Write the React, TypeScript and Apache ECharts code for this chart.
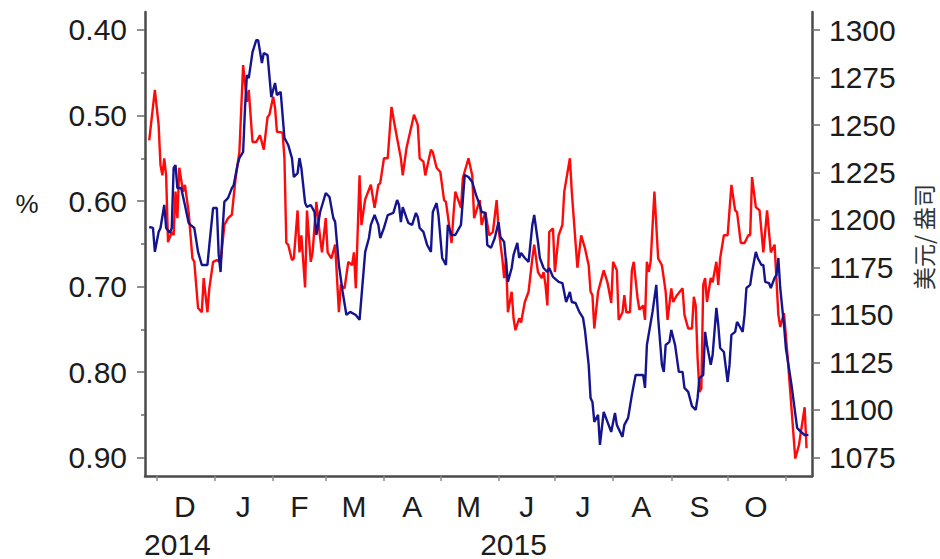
import React, { useEffect, useRef } from "react";
import * as echarts from "echarts";

// ---------- data ----------
const redSeries: [string, number][] = [
  ["2014-11-27", 0.529], ["2014-11-30", 0.47], ["2014-12-02", 0.511], ["2014-12-03", 0.558], ["2014-12-04", 0.57], ["2014-12-05", 0.55], ["2014-12-06", 0.57], ["2014-12-07", 0.648], ["2014-12-09", 0.636], ["2014-12-10", 0.64], ["2014-12-11", 0.589], ["2014-12-12", 0.62], ["2014-12-13", 0.561], ["2014-12-15", 0.589], ["2014-12-16", 0.581], ["2014-12-18", 0.613], ["2014-12-20", 0.667], ["2014-12-21", 0.671], ["2014-12-23", 0.725], ["2014-12-25", 0.73], ["2014-12-26", 0.69], ["2014-12-28", 0.73], ["2014-12-29", 0.702], ["2014-12-31", 0.671],
  ["2015-01-02", 0.669], ["2015-01-04", 0.672], ["2015-01-06", 0.628], ["2015-01-08", 0.62], ["2015-01-10", 0.616], ["2015-01-12", 0.573], ["2015-01-14", 0.543], ["2015-01-16", 0.441], ["2015-01-18", 0.484], ["2015-01-19", 0.47], ["2015-01-21", 0.531], ["2015-01-23", 0.531], ["2015-01-25", 0.523], ["2015-01-27", 0.54], ["2015-01-29", 0.502], ["2015-01-30", 0.499],
  ["2015-02-01", 0.478], ["2015-02-02", 0.491], ["2015-02-03", 0.519], ["2015-02-06", 0.52], ["2015-02-07", 0.55], ["2015-02-08", 0.649], ["2015-02-09", 0.651], ["2015-02-11", 0.669], ["2015-02-12", 0.667], ["2015-02-14", 0.611], ["2015-02-15", 0.66], ["2015-02-16", 0.64], ["2015-02-18", 0.701], ["2015-02-19", 0.611], ["2015-02-21", 0.671], ["2015-02-22", 0.66], ["2015-02-24", 0.601], ["2015-02-26", 0.643], ["2015-02-27", 0.66],
  ["2015-03-01", 0.62], ["2015-03-02", 0.66], ["2015-03-04", 0.667], ["2015-03-06", 0.651], ["2015-03-08", 0.73], ["2015-03-09", 0.698], ["2015-03-11", 0.702], ["2015-03-13", 0.671], ["2015-03-15", 0.675], ["2015-03-16", 0.66], ["2015-03-17", 0.702], ["2015-03-19", 0.57], ["2015-03-20", 0.628], ["2015-03-22", 0.598], ["2015-03-25", 0.581], ["2015-03-27", 0.608], ["2015-03-29", 0.581], ["2015-03-30", 0.579],
  ["2015-04-01", 0.55], ["2015-04-03", 0.55], ["2015-04-05", 0.49], ["2015-04-07", 0.515], ["2015-04-10", 0.55], ["2015-04-11", 0.57], ["2015-04-13", 0.538], ["2015-04-17", 0.499], ["2015-04-19", 0.511], ["2015-04-20", 0.55], ["2015-04-22", 0.554], ["2015-04-23", 0.57], ["2015-04-26", 0.54], ["2015-04-27", 0.543], ["2015-04-29", 0.561],
  ["2015-05-01", 0.566], ["2015-05-03", 0.599], ["2015-05-04", 0.601], ["2015-05-07", 0.649], ["2015-05-08", 0.616], ["2015-05-09", 0.589], ["2015-05-12", 0.608], ["2015-05-13", 0.573], ["2015-05-16", 0.55], ["2015-05-18", 0.57], ["2015-05-19", 0.62], ["2015-05-22", 0.599], ["2015-05-23", 0.628], ["2015-05-25", 0.613], ["2015-05-27", 0.64], ["2015-05-29", 0.636], ["2015-05-31", 0.599],
  ["2015-06-01", 0.632], ["2015-06-03", 0.667], ["2015-06-04", 0.69], ["2015-06-05", 0.667], ["2015-06-06", 0.73], ["2015-06-08", 0.706], ["2015-06-09", 0.737], ["2015-06-10", 0.751], ["2015-06-12", 0.737], ["2015-06-13", 0.742], ["2015-06-15", 0.718], ["2015-06-17", 0.706], ["2015-06-19", 0.667], ["2015-06-20", 0.651], ["2015-06-22", 0.683], ["2015-06-24", 0.69], ["2015-06-25", 0.683], ["2015-06-26", 0.698], ["2015-06-27", 0.722], ["2015-06-28", 0.636], ["2015-06-30", 0.632],
  ["2015-07-01", 0.683], ["2015-07-03", 0.64], ["2015-07-05", 0.628], ["2015-07-06", 0.589], ["2015-07-09", 0.55], ["2015-07-10", 0.589], ["2015-07-13", 0.678], ["2015-07-15", 0.64], ["2015-07-17", 0.655], ["2015-07-19", 0.675], ["2015-07-20", 0.706], ["2015-07-21", 0.71], ["2015-07-22", 0.749], ["2015-07-24", 0.706], ["2015-07-27", 0.681], ["2015-07-29", 0.695], ["2015-07-31", 0.719],
  ["2015-08-01", 0.671], ["2015-08-03", 0.681], ["2015-08-04", 0.739], ["2015-08-06", 0.73], ["2015-08-07", 0.71], ["2015-08-08", 0.73], ["2015-08-10", 0.73], ["2015-08-11", 0.681], ["2015-08-12", 0.671], ["2015-08-14", 0.713], ["2015-08-15", 0.727], ["2015-08-17", 0.722], ["2015-08-18", 0.739], ["2015-08-19", 0.671], ["2015-08-20", 0.683], ["2015-08-21", 0.671], ["2015-08-23", 0.589], ["2015-08-25", 0.667], ["2015-08-27", 0.675], ["2015-08-29", 0.706], ["2015-08-30", 0.739],
  ["2015-09-01", 0.702], ["2015-09-02", 0.718], ["2015-09-04", 0.71], ["2015-09-07", 0.702], ["2015-09-08", 0.733], ["2015-09-10", 0.749], ["2015-09-12", 0.749], ["2015-09-13", 0.712], ["2015-09-14", 0.722], ["2015-09-15", 0.784], ["2015-09-16", 0.823], ["2015-09-17", 0.819], ["2015-09-18", 0.698], ["2015-09-19", 0.69], ["2015-09-20", 0.718], ["2015-09-22", 0.69], ["2015-09-23", 0.695], ["2015-09-25", 0.671], ["2015-09-26", 0.698], ["2015-09-27", 0.667], ["2015-09-29", 0.64],
  ["2015-10-01", 0.64], ["2015-10-03", 0.581], ["2015-10-05", 0.611], ["2015-10-06", 0.613], ["2015-10-08", 0.649], ["2015-10-10", 0.649], ["2015-10-12", 0.64], ["2015-10-13", 0.64], ["2015-10-14", 0.572], ["2015-10-16", 0.607], ["2015-10-18", 0.611], ["2015-10-20", 0.66], ["2015-10-22", 0.611], ["2015-10-24", 0.66], ["2015-10-26", 0.651], ["2015-10-28", 0.733], ["2015-10-29", 0.747], ["2015-10-31", 0.731],
  ["2015-11-02", 0.784], ["2015-11-04", 0.842], ["2015-11-06", 0.901], ["2015-11-08", 0.885], ["2015-11-09", 0.87], ["2015-11-11", 0.841], ["2015-11-12", 0.889],
];

const blueSeries: [string, number][] = [
  ["2014-11-27", 1196.3], ["2014-11-29", 1195.8], ["2014-11-30", 1183.2], ["2014-12-02", 1193.7], ["2014-12-03", 1195.8], ["2014-12-05", 1207.9], ["2014-12-06", 1195.8], ["2014-12-08", 1193.2], ["2014-12-09", 1195.8], ["2014-12-10", 1227.4], ["2014-12-11", 1228.9], ["2014-12-12", 1216.8], ["2014-12-14", 1216.8], ["2014-12-16", 1207.9], ["2014-12-18", 1198.4], ["2014-12-19", 1197.4], ["2014-12-21", 1195.8], ["2014-12-23", 1183.2], ["2014-12-25", 1176.3], ["2014-12-28", 1176.3], ["2014-12-29", 1186.8], ["2014-12-31", 1206.3],
  ["2015-01-02", 1206.3], ["2015-01-03", 1181.6], ["2015-01-04", 1172.6], ["2015-01-05", 1193.7], ["2015-01-06", 1209.5], ["2015-01-08", 1211.6], ["2015-01-10", 1216.8], ["2015-01-11", 1218.4], ["2015-01-13", 1228.9], ["2015-01-14", 1232.6], ["2015-01-16", 1235.8], ["2015-01-17", 1258.9], ["2015-01-18", 1276.3], ["2015-01-19", 1274.7], ["2015-01-21", 1288.4], ["2015-01-23", 1294.7], ["2015-01-24", 1294.7], ["2015-01-26", 1282.6], ["2015-01-27", 1287.9], ["2015-01-29", 1286.8], ["2015-01-31", 1264.7],
  ["2015-02-01", 1268.4], ["2015-02-02", 1272.1], ["2015-02-03", 1265.8], ["2015-02-05", 1267.4], ["2015-02-07", 1243.2], ["2015-02-09", 1239.5], ["2015-02-11", 1232.6], ["2015-02-12", 1222.6], ["2015-02-14", 1224.7], ["2015-02-15", 1232.6], ["2015-02-16", 1227.4], ["2015-02-18", 1209.0], ["2015-02-19", 1206.8], ["2015-02-21", 1207.9], ["2015-02-23", 1204.2], ["2015-02-24", 1192.1], ["2015-02-26", 1204.2],
  ["2015-03-01", 1214.2], ["2015-03-03", 1212.1], ["2015-03-05", 1201.1], ["2015-03-06", 1199.0], ["2015-03-08", 1176.3], ["2015-03-10", 1162.1], ["2015-03-12", 1150.0], ["2015-03-14", 1151.6], ["2015-03-17", 1150.0], ["2015-03-19", 1147.4], ["2015-03-22", 1183.2], ["2015-03-24", 1190.5], ["2015-03-25", 1197.4], ["2015-03-27", 1202.6], ["2015-03-29", 1197.4], ["2015-03-30", 1190.5],
  ["2015-04-01", 1195.8], ["2015-04-03", 1202.6], ["2015-04-06", 1203.7], ["2015-04-08", 1210.5], ["2015-04-09", 1207.9], ["2015-04-10", 1198.9], ["2015-04-11", 1206.8], ["2015-04-13", 1201.1], ["2015-04-14", 1198.4], ["2015-04-16", 1197.4], ["2015-04-18", 1203.7], ["2015-04-19", 1201.6], ["2015-04-20", 1195.8], ["2015-04-22", 1193.7], ["2015-04-24", 1186.8], ["2015-04-26", 1183.2], ["2015-04-27", 1204.2], ["2015-04-29", 1208.9], ["2015-04-30", 1202.6],
  ["2015-05-02", 1180.0], ["2015-05-04", 1176.3], ["2015-05-05", 1197.4], ["2015-05-07", 1192.1], ["2015-05-09", 1192.1], ["2015-05-12", 1197.4], ["2015-05-14", 1223.7], ["2015-05-16", 1222.6], ["2015-05-18", 1220.0], ["2015-05-20", 1213.2], ["2015-05-22", 1207.9], ["2015-05-23", 1204.2], ["2015-05-25", 1203.7], ["2015-05-26", 1186.8], ["2015-05-28", 1185.3], ["2015-05-30", 1190.5],
  ["2015-06-01", 1198.9], ["2015-06-02", 1191.1], ["2015-06-04", 1188.4], ["2015-06-06", 1167.4], ["2015-06-08", 1174.7], ["2015-06-09", 1181.6], ["2015-06-11", 1187.9], ["2015-06-12", 1180.0], ["2015-06-13", 1182.6], ["2015-06-15", 1180.0], ["2015-06-17", 1177.9], ["2015-06-19", 1197.4], ["2015-06-20", 1202.6], ["2015-06-22", 1188.4], ["2015-06-23", 1180.0], ["2015-06-25", 1174.7], ["2015-06-27", 1172.6], ["2015-06-28", 1174.7], ["2015-06-30", 1170.0],
  ["2015-07-03", 1167.4], ["2015-07-05", 1166.8], ["2015-07-07", 1156.8], ["2015-07-09", 1162.1], ["2015-07-10", 1156.8], ["2015-07-12", 1156.3], ["2015-07-14", 1151.6], ["2015-07-16", 1148.4], ["2015-07-17", 1142.1], ["2015-07-19", 1123.7], ["2015-07-20", 1106.3], ["2015-07-21", 1104.2], ["2015-07-22", 1093.7], ["2015-07-24", 1097.4], ["2015-07-25", 1081.6], ["2015-07-27", 1098.9], ["2015-07-29", 1093.7], ["2015-07-31", 1088.4],
  ["2015-08-02", 1098.4], ["2015-08-03", 1092.1], ["2015-08-06", 1085.8], ["2015-08-07", 1092.1], ["2015-08-09", 1095.8], ["2015-08-11", 1107.9], ["2015-08-13", 1118.4], ["2015-08-17", 1118.4], ["2015-08-18", 1111.6], ["2015-08-19", 1134.2], ["2015-08-22", 1151.6], ["2015-08-24", 1165.8], ["2015-08-25", 1148.4], ["2015-08-27", 1123.7], ["2015-08-28", 1120.0], ["2015-08-29", 1134.2], ["2015-08-31", 1135.8],
  ["2015-09-01", 1142.1], ["2015-09-03", 1134.2], ["2015-09-05", 1120.0], ["2015-09-07", 1120.0], ["2015-09-08", 1111.6], ["2015-09-10", 1109.5], ["2015-09-12", 1102.0], ["2015-09-14", 1100.0], ["2015-09-15", 1106.3], ["2015-09-16", 1116.8], ["2015-09-18", 1118.4], ["2015-09-19", 1141.1], ["2015-09-20", 1134.2], ["2015-09-22", 1123.7], ["2015-09-23", 1128.9], ["2015-09-25", 1153.7], ["2015-09-26", 1144.7], ["2015-09-27", 1132.6], ["2015-09-29", 1130.5],
  ["2015-10-01", 1114.7], ["2015-10-02", 1123.7], ["2015-10-03", 1139.5], ["2015-10-05", 1141.1], ["2015-10-06", 1146.3], ["2015-10-07", 1144.7], ["2015-10-09", 1141.1], ["2015-10-10", 1150.0], ["2015-10-11", 1164.2], ["2015-10-13", 1165.8], ["2015-10-14", 1172.6], ["2015-10-16", 1183.2], ["2015-10-17", 1180.0], ["2015-10-19", 1176.3], ["2015-10-20", 1176.3], ["2015-10-21", 1167.4], ["2015-10-23", 1166.8], ["2015-10-24", 1164.2], ["2015-10-26", 1169.5], ["2015-10-27", 1171.1], ["2015-10-28", 1180.0], ["2015-10-29", 1164.2], ["2015-10-31", 1144.7],
  ["2015-11-01", 1132.6], ["2015-11-04", 1113.2], ["2015-11-07", 1090.5], ["2015-11-09", 1088.4], ["2015-11-11", 1086.8], ["2015-11-13", 1086.8],
];

const monthStarts = ["2014-12-01", "2015-01-01", "2015-02-01", "2015-03-01", "2015-04-01", "2015-05-01", "2015-06-01", "2015-07-01", "2015-08-01", "2015-09-01", "2015-10-01", "2015-11-01"];
const monthLabelDates = ["2014-12-16", "2015-01-16", "2015-02-15", "2015-03-16", "2015-04-16", "2015-05-16", "2015-06-16", "2015-07-16", "2015-08-16", "2015-09-16", "2015-10-16"];
const monthLetters = ["D", "J", "F", "M", "A", "M", "J", "J", "A", "S", "O"];
const yearLabelDates = ["2014-12-12", "2015-06-09"];
const yearLabels = ["2014", "2015"];
const leftTicks = [0.4, 0.5, 0.6, 0.7, 0.8, 0.9];
const leftMinorTicks = [0.45, 0.55, 0.65, 0.75, 0.85];
const rightTicks = [1075, 1100, 1125, 1150, 1175, 1200, 1225, 1250, 1275, 1300];
const leftRange = [0.379, 0.9214];
const rightRange = [1065.2, 1309.5];
const xRangeStart = "2014-11-24T18:00";
const xRangeEnd = "2015-11-14T22:00";
const leftTitle = "%";
const rightTitle = "美元/ 盎司";

// ---------- helpers ----------
function ts(s: string): number {
  const [d, t] = s.split("T");
  const [y, m, day] = d.split("-").map(Number);
  let h = 0, mi = 0;
  if (t) {
    const parts = t.split(":").map(Number);
    h = parts[0];
    mi = parts[1] || 0;
  }
  return Date.UTC(y, m - 1, day, h, mi);
}

const FONT = "'Liberation Sans', Arial, sans-serif";
const TEXT = "#1c1c1c";
const AXIS = "#4a4a4a";
const TICK_FONT = 30;

export default function App() {
  const ref = useRef<HTMLDivElement>(null);

  useEffect(() => {
    if (!ref.current) return;
    const chart = echarts.init(ref.current, undefined, { renderer: "svg" });

    const monthMap = new Map<number, string>();
    monthLabelDates.forEach((d, i) => monthMap.set(ts(d), monthLetters[i]));
    const yearMap = new Map<number, string>();
    yearLabelDates.forEach((d, i) => yearMap.set(ts(d), yearLabels[i]));

    const xMin = ts(xRangeStart);
    const xMax = ts(xRangeEnd);

    const option: any = {
      animation: false,
      backgroundColor: "#ffffff",
      grid: { left: 145, right: 128, top: 12, bottom: 83, containLabel: false },
      xAxis: [
        {
          type: "value",
          min: xMin,
          max: xMax,
          position: "bottom",
          axisLine: { show: true, onZero: false, lineStyle: { color: AXIS, width: 2.5 } },
          axisTick: {
            show: true,
            customValues: monthStarts.map(ts),
            length: 5,
            lineStyle: { color: "#8a8a8a", width: 1.5 },
          },
          axisLabel: {
            show: true,
            customValues: monthLabelDates.map(ts),
            formatter: (v: number) => monthMap.get(v) ?? "",
            fontSize: TICK_FONT,
            fontFamily: FONT,
            color: TEXT,
            margin: 15,
          },
          splitLine: { show: false },
        },
        {
          type: "value",
          min: xMin,
          max: xMax,
          position: "bottom",
          axisLine: { show: false, onZero: false },
          axisTick: { show: false },
          axisLabel: {
            show: true,
            customValues: yearLabelDates.map(ts),
            formatter: (v: number) => yearMap.get(v) ?? "",
            fontSize: TICK_FONT,
            fontFamily: FONT,
            color: TEXT,
            margin: 53,
          },
          splitLine: { show: false },
        },
      ],
      yAxis: [
        {
          type: "value",
          position: "left",
          inverse: true,
          min: leftRange[0],
          max: leftRange[1],
          axisLine: { show: true, onZero: false, lineStyle: { color: AXIS, width: 2.5 } },
          axisTick: {
            show: true,
            customValues: leftTicks,
            length: 8,
            lineStyle: { color: "#6a6a6a", width: 1.5 },
          },
          axisLabel: {
            show: true,
            customValues: leftTicks,
            formatter: (v: number) => v.toFixed(2),
            fontSize: TICK_FONT,
            fontFamily: FONT,
            color: TEXT,
            margin: 18,
          },
          splitLine: { show: false },
        },
        {
          type: "value",
          position: "right",
          min: rightRange[0],
          max: rightRange[1],
          axisLine: { show: true, onZero: false, lineStyle: { color: AXIS, width: 2.5 } },
          axisTick: {
            show: true,
            customValues: rightTicks,
            length: 8,
            lineStyle: { color: "#6a6a6a", width: 1.5 },
          },
          axisLabel: {
            show: true,
            customValues: rightTicks,
            formatter: (v: number) => String(v),
            fontSize: TICK_FONT,
            fontFamily: FONT,
            color: TEXT,
            margin: 17,
          },
          splitLine: { show: false },
        },
        {
          type: "value",
          position: "left",
          inverse: true,
          min: leftRange[0],
          max: leftRange[1],
          axisLine: { show: false, onZero: false },
          axisTick: {
            show: true,
            customValues: leftMinorTicks,
            length: 4,
            lineStyle: { color: "#6a6a6a", width: 1.5 },
          },
          axisLabel: { show: false },
          splitLine: { show: false },
        },
      ],
      series: [
        {
          type: "line",
          xAxisIndex: 0,
          yAxisIndex: 0,
          data: redSeries.map(([d, v]) => [ts(d), v]),
          showSymbol: false,
          symbol: "none",
          lineStyle: { color: "#ff0a0a", width: 2.4 },
          itemStyle: { color: "#ff0a0a" },
          z: 2,
        },
        {
          type: "line",
          xAxisIndex: 0,
          yAxisIndex: 1,
          data: blueSeries.map(([d, v]) => [ts(d), v]),
          showSymbol: false,
          symbol: "none",
          lineStyle: { color: "#14148f", width: 2.4 },
          itemStyle: { color: "#14148f" },
          z: 3,
        },
      ],
      graphic: [
        {
          type: "text",
          x: 27,
          y: 204,
          style: {
            text: leftTitle,
            fontSize: 26,
            fontFamily: FONT,
            fill: TEXT,
            align: "center",
            verticalAlign: "middle",
          },
        },
        {
          type: "text",
          x: 923,
          y: 237,
          rotation: Math.PI / 2,
          style: {
            text: rightTitle,
            fontSize: 23,
            fontFamily: "'Noto Sans CJK SC', sans-serif",
            fill: "#333333",
            align: "center",
            verticalAlign: "middle",
          },
        },
      ],
    };

    chart.setOption(option);
    return () => {
      chart.dispose();
    };
  }, []);

  return (
    <div
      ref={ref}
      style={{ position: "fixed", left: 0, top: 0, width: 940, height: 559, background: "#fff" }}
    />
  );
}
